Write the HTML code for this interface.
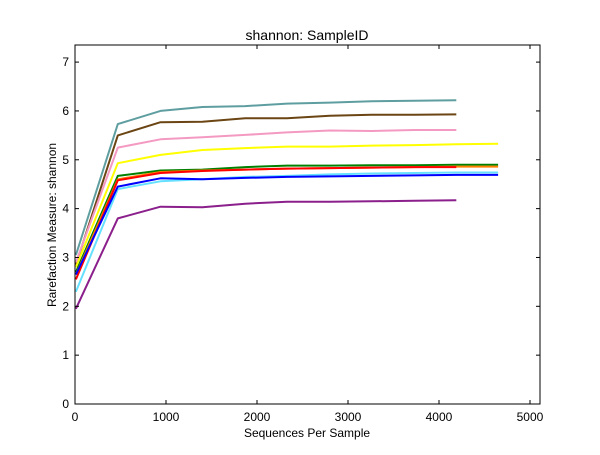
<!DOCTYPE html>
<html><head><meta charset="utf-8"><style>
body{margin:0;background:#fff;}
svg text{font-family:"Liberation Sans","DejaVu Sans",sans-serif;}
</style></head><body>
<svg id="chart" width="600" height="450" xmlns="http://www.w3.org/2000/svg">
<rect width="600" height="450" fill="#fff"/>
<g id="plot"></g>
<text x="307" y="40" font-size="14" text-anchor="middle">shannon: SampleID</text>
<text x="307" y="437" font-size="12" text-anchor="middle">Sequences Per Sample</text>
<text x="56" y="225" font-size="12" text-anchor="middle" transform="rotate(-90 56 225)">Rarefaction Measure: shannon</text>
</svg>
<script>
const depths=[10,470,940,1400,1870,2330,2800,3260,3730,4190,4650];
const xTicks=[0,1000,2000,3000,4000,5000];
const yTicks=[0,1,2,3,4,5,6,7];
const seriesColors=["#5f9ea0","#6b4513","#f49ac2","#ffff00","#008000","#ff7f00","#ff0000","#66e0ff","#0000ff","#8b1f8b"];
const seriesNames=["teal","brown","pink","yellow","green","orange","red","cyan","blue","purple"];
const teal=[3.05,5.73,6.0,6.08,6.1,6.15,6.17,6.2,6.21,6.22];
const brown=[2.85,5.5,5.77,5.78,5.85,5.85,5.9,5.92,5.92,5.93];
const pink=[2.9,5.25,5.42,5.46,5.51,5.56,5.6,5.59,5.61,5.61];
const yellow=[2.8,4.93,5.1,5.2,5.24,5.27,5.27,5.29,5.3,5.32,5.33];
const green=[2.7,4.67,4.78,4.8,4.85,4.88,4.88,4.89,4.89,4.9,4.9];
const orange=[2.65,4.6,4.75,4.78,4.8,4.82,4.83,4.84,4.85,4.86,4.86];
const red=[2.55,4.58,4.73,4.77,4.8,4.82,4.83,4.84,4.85,4.85];
const cyan=[2.3,4.4,4.56,4.6,4.65,4.67,4.7,4.72,4.73,4.74,4.74];
const blue=[2.65,4.45,4.62,4.6,4.63,4.65,4.66,4.67,4.68,4.69,4.69];
const purple=[1.95,3.8,4.04,4.03,4.1,4.14,4.14,4.15,4.16,4.17];
const allSeries=[teal,brown,pink,yellow,green,orange,red,cyan,blue,purple];

const L=75,R=540,T=45,B=404,xMax=5110,yMax=7.35;
const xs=v=>L+v/xMax*(R-L);
const ys=v=>B-v/yMax*(B-T);
const NS="http://www.w3.org/2000/svg";
const g=document.getElementById('plot');
function mk(tag,attrs){const e=document.createElementNS(NS,tag);for(const k in attrs)e.setAttribute(k,attrs[k]);g.appendChild(e);return e;}
allSeries.forEach((s,i)=>{
  const pts=s.map((v,j)=>xs(depths[j]).toFixed(1)+","+ys(v).toFixed(1)).join(" ");
  const p=mk('polyline',{points:pts,fill:"none",stroke:seriesColors[i],"stroke-width":2,"stroke-linejoin":"round"});
  
  
});
const frame=mk('rect',{x:L,y:T,width:R-L,height:B-T,fill:"none",stroke:"#000","stroke-width":1});


xTicks.forEach(t=>{
  const x=xs(t);
  mk('line',{x1:x,y1:B,x2:x,y2:B-4,stroke:"#000"});
  mk('line',{x1:x,y1:T,x2:x,y2:T+4,stroke:"#000"});
  const tx=mk('text',{x:x,y:B+17,"font-size":12,"text-anchor":"middle"});
  tx.textContent=t;
  
  
});
yTicks.forEach(t=>{
  const y=ys(t);
  mk('line',{x1:L,y1:y,x2:L+4,y2:y,stroke:"#000"});
  mk('line',{x1:R,y1:y,x2:R-4,y2:y,stroke:"#000"});
  const tx=mk('text',{x:L-6,y:y+4,"font-size":12,"text-anchor":"end"});
  tx.textContent=t;
  
  
});
</script>
</body></html>
